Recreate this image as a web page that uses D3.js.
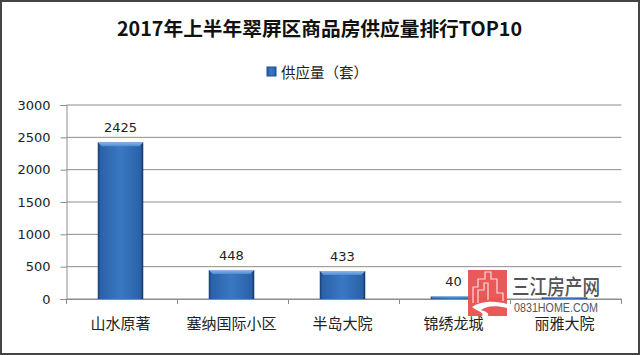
<!DOCTYPE html>
<html>
<head>
<meta charset="utf-8">
<script src="https://cdn.jsdelivr.net/npm/d3@7"></script>
<style>
  html, body { margin: 0; padding: 0; background: #fff; }
  svg { display: block; }
  text { font-family: "Noto Sans CJK SC", "DejaVu Sans", sans-serif; fill: #222; }
</style>
</head>
<body>
<div id="chart"></div>
<script>
const categories = ["山水原著", "塞纳国际小区", "半岛大院", "锦绣龙城", "丽雅大院"]
const supply = [2425, 448, 433, 40, 30]
const barLabels = ["2425", "448", "433", "40", ""]
const yTicks = [0, 500, 1000, 1500, 2000, 2500, 3000]
const chartTitle = "2017年上半年翠屏区商品房供应量排行TOP10"
const legendLabel = "供应量（套）"

const width = 640
const height = 355
const margin = { top: 105, right: 18.5, bottom: 56, left: 66.5 }
const chartWidth = width - margin.left - margin.right
const chartHeight = height - margin.top - margin.bottom

let svg = d3.select("#chart").append("svg")
    .attr("width", width)
    .attr("height", height)

let defs = svg.append("defs")
let barGrad = defs.append("linearGradient").attr("id", "barGrad")
barGrad.append("stop").attr("offset", "0%").attr("stop-color", "#173c70")
barGrad.append("stop").attr("offset", "6%").attr("stop-color", "#2a62a8")
barGrad.append("stop").attr("offset", "50%").attr("stop-color", "#3a78c4")
barGrad.append("stop").attr("offset", "94%").attr("stop-color", "#2a62a8")
barGrad.append("stop").attr("offset", "100%").attr("stop-color", "#12305c")

let topGrad = defs.append("linearGradient").attr("id", "topGrad").attr("x2", 0).attr("y2", 1)
topGrad.append("stop").attr("offset", "0%").attr("stop-color", "#8db8e8")
topGrad.append("stop").attr("offset", "100%").attr("stop-color", "#4f8ad2")

// outer frame
svg.append("rect")
    .attr("x", 1).attr("y", 1)
    .attr("width", width - 2).attr("height", height - 2)
    .attr("fill", "#fff")
    .attr("stroke", "#444")
    .attr("stroke-width", 2)

svg.append("text")
    .attr("x", 319.5).attr("y", 36)
    .attr("text-anchor", "middle")
    .attr("textLength", 405)
    .attr("lengthAdjust", "spacingAndGlyphs")
    .style("font-size", "19.5px")
    .style("font-weight", "700")
    .style("fill", "#111")
    .text(chartTitle)

// legend
svg.append("rect")
    .attr("x", 267).attr("y", 67)
    .attr("width", 9).attr("height", 9)
    .attr("fill", "url(#barGrad)")
    .attr("stroke", "#1f4f8f")
svg.append("text")
    .attr("x", 281).attr("y", 78)
    .style("font-size", "14.5px")
    .text(legendLabel)

let chart = svg.append("g").attr("transform", `translate(${margin.left}, ${margin.top})`)

let xScale = d3.scaleBand().domain(categories).range([0, chartWidth]).paddingInner(0.59).paddingOuter(0.295)
let xTickScale = d3.scaleBand().domain(categories).range([0, chartWidth])
let yScale = d3.scaleLinear().domain([0, 3000]).range([chartHeight, 0])

// gridlines
chart.append("g")
    .selectAll("line")
    .data(yTicks)
    .enter()
    .append("line")
    .attr("x1", 0)
    .attr("x2", chartWidth)
    .attr("y1", d => yScale(d))
    .attr("y2", d => yScale(d))
    .attr("stroke", "#8c8c8c")
    .attr("stroke-width", 1)

let yAxis = d3.axisLeft(yScale).tickValues(yTicks).tickFormat(d3.format("d")).tickSize(6).tickPadding(10)
let yG = chart.append("g").call(yAxis)
yG.select(".domain").attr("stroke", "#8c8c8c")
yG.selectAll(".tick line").attr("stroke", "#8c8c8c")
yG.selectAll("text").style("font-size", "13px").style("font-family", "'DejaVu Sans', sans-serif").style("fill", "#222")

// x axis, ticks sit between the categories
let xAxis = d3.axisBottom(xTickScale).tickSize(0).tickPadding(19)
let xG = chart.append("g").attr("transform", `translate(0, ${chartHeight})`).call(xAxis)
xG.select(".domain").attr("stroke", "#8c8c8c")
xG.selectAll("text").attr("dx", -1.5).style("font-size", "15px").style("fill", "#222")
xG.append("g")
    .selectAll("line")
    .data([0, 1, 2, 3, 4, 5])
    .enter()
    .append("line")
    .attr("x1", d => d * xTickScale.step())
    .attr("x2", d => d * xTickScale.step())
    .attr("y1", 0)
    .attr("y2", 5)
    .attr("stroke", "#8c8c8c")

let bars = chart.append("g")
    .attr("transform", "translate(-1.5, 0)")
    .selectAll("g")
    .data(categories.map((c, i) => ({ category: c, value: supply[i], label: barLabels[i] })))
    .enter()
    .append("g")

bars.append("rect")
    .attr("x", d => xScale(d.category))
    .attr("y", d => yScale(d.value))
    .attr("width", xScale.bandwidth())
    .attr("height", d => chartHeight - yScale(d.value))
    .attr("fill", "url(#barGrad)")

// bevel on top of each bar
bars.append("path")
    .attr("d", d => {
      let x0 = xScale(d.category), x1 = x0 + xScale.bandwidth(), y0 = yScale(d.value)
      let b = Math.min(4, (chartHeight - y0) / 2)
      return `M${x0},${y0}H${x1}L${x1 - b},${y0 + b}H${x0 + b}Z`
    })
    .attr("fill", "url(#topGrad)")

bars.append("text")
    .attr("x", d => xScale(d.category) + xScale.bandwidth() / 2)
    .attr("y", d => yScale(d.value) - 10)
    .attr("text-anchor", "middle")
    .style("font-size", "13px")
    .style("font-family", "'DejaVu Sans', sans-serif")
    .text(d => d.label)

// site watermark over the bottom right corner
let mark = svg.append("g")
mark.append("rect")
    .attr("x", 468).attr("y", 270)
    .attr("width", 39).attr("height", 46)
    .attr("fill", "#e8504f")
    .attr("fill-opacity", 0.95)
mark.append("path")
    .attr("d", "M473,303V287H478V279H485V272H491V279H497V293H503V301")
    .attr("fill", "none")
    .attr("stroke", "#f8dcdc")
    .attr("stroke-width", 1.2)
mark.append("path")
    .attr("d", "M478,303V290H484V283H488V300")
    .attr("fill", "none")
    .attr("stroke", "#f8dcdc")
    .attr("stroke-width", 1.2)
mark.append("path")
    .attr("d", "M472,307C482,300 497,301 507,304V308C495,305 486,306 481,310C487,312 489,313 488,316H482C485,312 476,311 472,307Z")
    .attr("fill", "#fff")
svg.append("text")
    .attr("x", 512).attr("y", 294)
    .attr("textLength", 88)
    .attr("lengthAdjust", "spacingAndGlyphs")
    .style("font-size", "21px")
    .style("font-weight", "500")
    .style("fill", "#555")
    .text("三江房产网")
svg.append("text")
    .attr("x", 514).attr("y", 312)
    .attr("textLength", 84)
    .attr("lengthAdjust", "spacingAndGlyphs")
    .style("font-size", "12.5px")
    .style("font-family", "'Liberation Sans', sans-serif")
    .style("fill", "#555")
    .text("0831HOME.COM")
</script>
</body>
</html>
